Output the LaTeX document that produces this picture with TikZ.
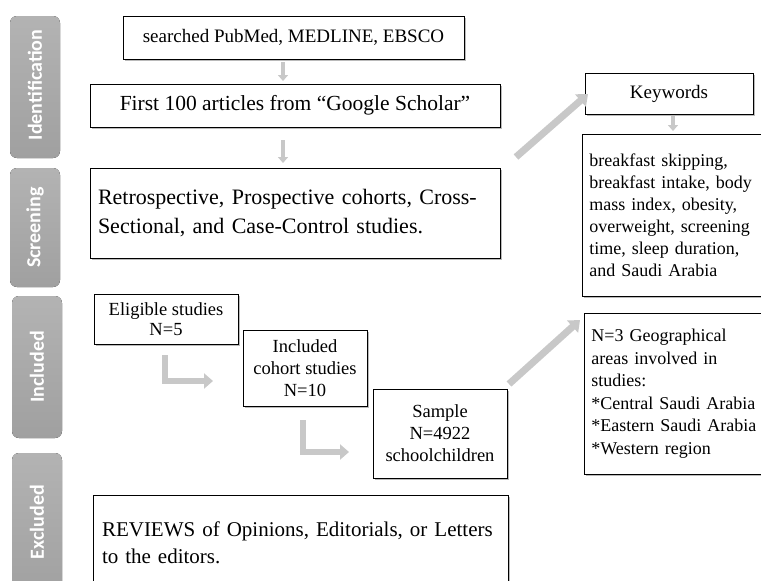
\documentclass[tikz,border=0pt]{standalone}
\usepackage{fontspec}
\setmainfont{Liberation Serif}
\newfontfamily\phasefont{Carlito}
\usetikzlibrary{arrows.meta,shadows,calc}
\definecolor{phasegray}{RGB}{160,160,160}
\definecolor{arrgray}{RGB}{200,200,200}
\begin{document}
\begin{tikzpicture}[x=1pt,y=-1pt,
  box/.style={draw=black,line width=0.8pt,fill=white,inner sep=3pt,
    drop shadow={shadow xshift=1.5pt,shadow yshift=-2pt,fill=black!45,opacity=0.6}},
  phase/.style={rounded corners=7pt,top color=phasegray!80,bottom color=phasegray,draw=none},
  phasetxt/.style={rotate=90,text=white,font=\phasefont\bfseries\fontsize{20}{22}\selectfont},
  smallarr/.style={draw=arrgray,line width=3.5pt,-{Triangle[width=10pt,length=6pt]}},
  bigarr/.style={draw=arrgray,line width=7pt,-{Triangle[width=16pt,length=10pt]}},
  elbarr/.style={draw=arrgray,line width=6pt,-{Triangle[width=15pt,length=9pt]}}]
\clip (0,0) rectangle (761,581);
\fill[white] (0,0) rectangle (761,581);
% phase labels
\fill[phase] (10,16) rectangle (60,158);
\node[phasetxt] (pid) at (35,85) {Identification};
\fill[phase] (10,168) rectangle (60,287);
\node[phasetxt] (psc) at (35,227.5) {Screening};
\fill[phase] (12,296) rectangle (62,438);
\node[phasetxt] (pin) at (37,367) {Included};
\fill[phase] (12,453) rectangle (62,600);
\node[phasetxt] (pex) at (37,522) {Excluded};
% boxes
\node[box,minimum width=341pt,minimum height=43pt,font=\fontsize{19}{22}\selectfont] (search) at (293.5,37.5) {searched PubMed, MEDLINE, EBSCO};
\node[box,minimum width=410pt,minimum height=43pt,font=\fontsize{21.5}{24}\selectfont] (first) at (295,105.5) {First 100 articles from “Google Scholar”};
\node[box,minimum width=410pt,minimum height=90pt,inner xsep=8pt,text width=394pt,align=left,font=\fontsize{22}{29}\selectfont] (retro) at (295,213) {Retrospective, Prospective cohorts, Cross-\\Sectional, and Case-Control studies.};
\node[box,minimum width=168pt,minimum height=41pt,font=\fontsize{19}{22}\selectfont] (kw) at (669,93.5) {Keywords};
\node[box,anchor=west,minimum height=162pt,inner xsep=7pt,text width=200pt,align=left,font=\fontsize{18}{22}\selectfont] (kwt) at (582,215) {breakfast skipping,\\breakfast intake, body\\mass index, obesity,\\overweight, screening\\time, sleep duration,\\and Saudi Arabia};
\node[box,minimum width=144pt,minimum height=50pt,align=center,font=\fontsize{18.5}{20}\selectfont] (elig) at (166,319) {Eligible studies\\N=5};
\node[box,minimum width=124pt,minimum height=76pt,align=center,font=\fontsize{18.5}{22}\selectfont] (coh) at (305,368) {Included\\cohort studies\\N=10};
\node[box,minimum width=134pt,minimum height=89pt,align=center,font=\fontsize{18.5}{22}\selectfont] (samp) at (440,433.5) {Sample\\N=4922\\schoolchildren};
\node[box,anchor=west,minimum height=161pt,inner xsep=7pt,text width=200pt,align=left,font=\fontsize{18}{22.5}\selectfont] (geo) at (584,393.5) {N=3 Geographical\\areas involved in\\studies:\\{*}Central Saudi Arabia\\{*}Eastern Saudi Arabia\\{*}Western region};
\node[box,minimum width=415pt,minimum height=96pt,inner xsep=9pt,text width=397pt,align=left,font=\fontsize{21}{27}\selectfont] (rev) at (300.5,543) {REVIEWS of Opinions, Editorials, or Letters\\to the editors.};
% arrows
\coordinate (a1s) at (283,62); \coordinate (a1e) at (283,81);
\draw[smallarr] (a1s) -- (a1e);
\coordinate (a2s) at (283,140); \coordinate (a2e) at (283,163);
\draw[smallarr] (a2s) -- (a2e);
\coordinate (a3s) at (673,116); \coordinate (a3e) at (673,131);
\draw[smallarr] (a3s) -- (a3e);
\coordinate (d1s) at (516,157); \coordinate (d1e) at (588,94);
\draw[bigarr] (d1s) -- (d1e);
\coordinate (d2s) at (509,384); \coordinate (d2e) at (580,320);
\draw[bigarr] (d2s) -- (d2e);
\coordinate (e1s) at (165,355); \coordinate (e1e) at (213,381);
\draw[elbarr] (e1s) |- (e1e);
\coordinate (e2s) at (303,420); \coordinate (e2e) at (349,452);
\draw[elbarr] (e2s) |- (e2e);
\end{tikzpicture}
\end{document}
